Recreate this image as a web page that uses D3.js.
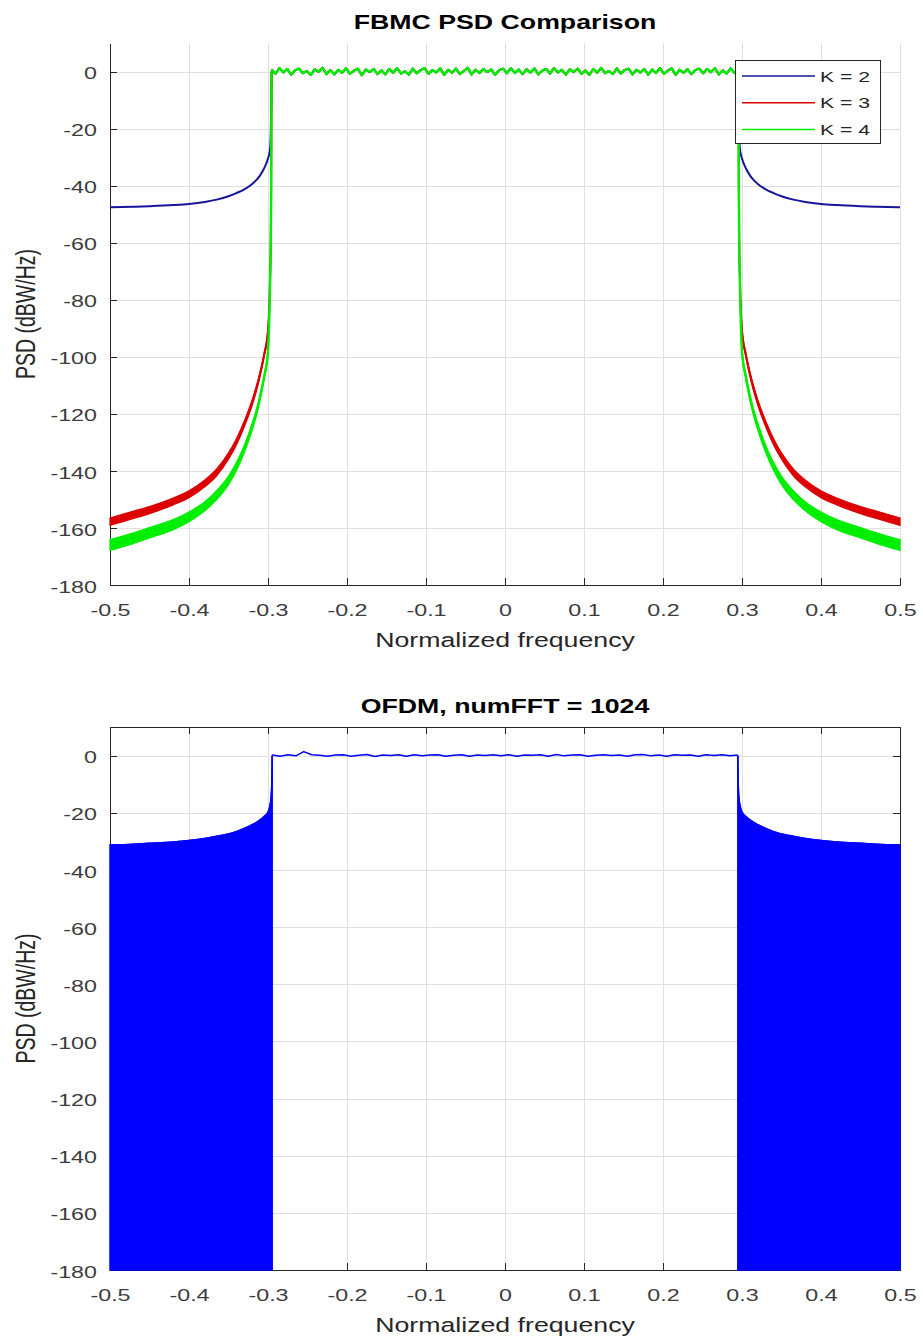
<!DOCTYPE html>
<html>
<head>
<meta charset="utf-8">
<script src="https://cdn.jsdelivr.net/npm/d3@7"></script>
<style>
  body { margin: 0; background: #fff; }
  text { font-family: "Liberation Sans", Arial, sans-serif; }
  .grid line { stroke: #e0e0e0; stroke-width: 1; shape-rendering: crispEdges; }
  .grid path { display: none; }
  .axis path, .axis line { stroke: #262626; stroke-width: 1; shape-rendering: crispEdges; }
  .axis text { fill: #3c3c3c; font-size: 17px; }
</style>
</head>
<body>
<svg id="chart" width="923" height="1340"></svg>
<script>
// tick values
var xTicks = [-0.5, -0.4, -0.3, -0.2, -0.1, 0, 0.1, 0.2, 0.3, 0.4, 0.5];
var yTicks = [-180, -160, -140, -120, -100, -80, -60, -40, -20, 0];

// FBMC: |f| on the stopband side, from the outer edge in to the band edge
var sideFreq = [0.5, 0.47, 0.45, 0.42, 0.4, 0.38, 0.365, 0.35, 0.34, 0.33, 0.32, 0.314, 0.31, 0.305, 0.30, 0.2975, 0.2965, 0.296, 0.2955];
var k2Side = [-47.6, -47.4, -47.2, -46.8, -46.4, -45.7, -44.9, -43.7, -42.6, -41.3, -39.4, -37.8, -36.4, -34.0, -30.5, -27.5, -22, -15, 0];
var k3Hi = [-156.5, -154.1, -152.5, -149.5, -147.0, -143.2, -139.3, -133.7, -128.7, -122.5, -115.0, -109.5, -105.2, -98.8, -90.1, -73.6, -58.7, -40.8, 0];
var k3Lo = [-159.1, -156.7, -155.0, -151.9, -149.4, -145.6, -141.7, -135.9, -130.9, -124.5, -117.0, -111.3, -106.8, -100.2, -91.3, -74.4, -59.3, -41.2, 0];
var k4Hi = [-164.1, -161.7, -159.9, -157.1, -154.4, -150.8, -146.9, -141.8, -137.1, -131.0, -123.3, -117.7, -113.2, -106.4, -97.6, -75.6, -59.7, -41.8, 0];
var k4Lo = [-167.9, -165.4, -163.5, -160.6, -157.8, -154.0, -150.1, -144.8, -139.9, -133.6, -125.7, -119.9, -115.2, -108.0, -98.8, -76.4, -60.3, -42.2, 0];
var fbmcEdge = 0.2955;
// passband ripple (dB), evenly spread over the passband
var fbmcRipple = [0.7, -0.8, 1.2, -0.3, 0.9, -1.1, 0.4, 1.0, -0.6, 0.2, -1.2, 0.8, -0.1, 1.3, -0.9, 0.5, -1.0, 0.6, -0.4, 1.1,
  -0.8, 0.3, 1.0, -1.3, 0.7, -0.2, 0.9, -0.9, 0.4, -1.0, 0.9, -0.5, 1.2, -0.7, 0.1, -1.1, 1.0, -0.6, 0.5, 1.2,
  -0.8, 0.5, -0.3, 1.1, -1.2, 0.6, -0.4, 1.0, -0.9, 0.2, 1.3, -1.0, 0.6, -0.5, 0.9, -0.2, 0.7, -1.2, 0.5, 1.0,
  -0.6, 1.2, -0.5, 0.7, -0.9, 0.8, -0.4, 1.1, -1.0, 0.3, 0.9, -0.7, 1.2, -0.3, 0.6, -1.1, 0.8, -0.2, 1.0, -0.8,
  0.4, -1.2, 0.9, -0.4, 1.3, -0.6, 0.2, -0.9, 1.1, -0.7, 0.5, 1.0, -1.0, 0.6, -0.3, 0.9, -1.1, 0.7, -0.5, 1.2,
  -0.8, 0.3, 1.1, -1.2, 0.6, -0.4, 0.8, -0.9, 0.5, 1.0, -0.6, 0.9, -0.2, 1.2, -1.0, 0.4, -0.7, 1.1, -0.5, 0.6];
var seriesNames = ["K = 2", "K = 3", "K = 4"];

// OFDM: envelope of the stopband, same layout as above
var ofdmFreq = [0.5, 0.47, 0.45, 0.42, 0.4, 0.38, 0.36, 0.34, 0.33, 0.32, 0.31, 0.305, 0.30, 0.2975, 0.296, 0.2952, 0.2947];
var ofdmSide = [-31.3, -31.0, -30.7, -30.2, -29.7, -29.0, -28.0, -26.6, -25.5, -24.2, -22.5, -21.3, -19.8, -17.5, -14.5, -10, 0];
var ofdmEdge = 0.2947;
var ofdmRipple = [0.2, -0.2, 0.3, -0.1, 1.4, 0.3, 0.1, -0.2, 0.2, 0.3, -0.2, 0.1, 0.4, -0.3, 0.2, 0.0, 0.3, -0.2, 0.3, -0.1,
  0.2, 0.3, -0.2, 0.1, 0.3, -0.2, 0.2, 0.0, 0.3, -0.1, 0.3, -0.2, 0.2, 0.1, 0.3, -0.2, 0.4, -0.1, 0.2, 0.3,
  -0.2, 0.1, 0.3, 0.0, 0.2, -0.2, 0.3, 0.4, -0.1, 0.2, -0.2, 0.3, 0.1, 0.2, -0.2, 0.3, 0.0, 0.3, -0.1, 0.2];

// the picture is stretched sideways, so text is too
var SX = 1.37;
var colK2 = "#16169c", colK3 = "#dc0000", colK4 = "#00ee00", colOfdm = "#0000ff";

var svg = d3.select("#chart");

// helpers to turn the side arrays into points
function leftSide(freqs, vals) {
  return freqs.map((f, i) => [-f, vals[i]]);
}
function rightSide(freqs, vals) {
  return freqs.map((f, i) => [f, vals[i]]).reverse();
}
function passband(edge, ripple) {
  var n = ripple.length;
  return ripple.map((v, i) => [-edge + 2 * edge * i / (n - 1), v]);
}
function bandSide(freqs, hi, lo, sign) {
  var pts = freqs.map((f, i) => ({ f: sign * f, hi: hi[i], lo: lo[i] }));
  return sign > 0 ? pts.reverse() : pts;
}
function mid(hi, lo) {
  return hi.map((h, i) => (h + lo[i]) / 2);
}

function stretch(sel, x, y, rot) {
  sel.attr("transform", "translate(" + x + "," + y + ") scale(" + SX + ",1)" + (rot ? " rotate(" + rot + ")" : ""));
}

function drawFrame(x, y, top, bottom, left, right, title, boxed) {
  var g = svg.append("g");

  g.append("g")
    .attr("class", "grid")
    .attr("transform", "translate(0," + bottom + ")")
    .call(d3.axisBottom(x).tickValues(xTicks).tickSize(-(bottom - top)).tickFormat(""));

  g.append("g")
    .attr("class", "grid")
    .attr("transform", "translate(" + left + ",0)")
    .call(d3.axisLeft(y).tickValues(yTicks).tickSize(-(right - left)).tickFormat(""));

  var ax = g.append("g")
    .attr("class", "axis")
    .attr("transform", "translate(0," + bottom + ")")
    .call(d3.axisBottom(x).tickValues(xTicks).tickSizeInner(-7).tickSizeOuter(0)
      .tickPadding(19).tickFormat((d) => String(d)));
  ax.selectAll("text").attr("transform", "scale(" + SX + ",1)");

  var ay = g.append("g")
    .attr("class", "axis")
    .attr("transform", "translate(" + left + ",0)")
    .call(d3.axisLeft(y).tickValues(yTicks).tickSizeInner(-7).tickSizeOuter(0)
      .tickPadding(13).tickFormat((d) => String(d)));
  ay.selectAll("text")
    .attr("x", -13 / SX)
    .attr("dy", "0.42em")
    .attr("transform", "scale(" + SX + ",1)");

  if (boxed) {
    g.append("g")
      .attr("class", "axis")
      .attr("transform", "translate(0," + top + ")")
      .call(d3.axisTop(x).tickValues(xTicks).tickSizeInner(-7).tickSizeOuter(0).tickFormat(""));
    g.append("g")
      .attr("class", "axis")
      .attr("transform", "translate(" + right + ",0)")
      .call(d3.axisRight(y).tickValues(yTicks).tickSizeInner(-7).tickSizeOuter(0).tickFormat(""));
  }

  // title
  svg.append("text")
    .attr("text-anchor", "middle")
    .style("font-size", "19.5px")
    .style("font-weight", "bold")
    .style("fill", "#000")
    .text(title)
    .call(stretch, (left + right) / 2, top - 14);

  // x label
  svg.append("text")
    .attr("text-anchor", "middle")
    .style("font-size", "19.5px")
    .style("fill", "#262626")
    .text("Normalized frequency")
    .call(stretch, (left + right) / 2, bottom + 62);

  // y label
  svg.append("text")
    .attr("text-anchor", "middle")
    .style("font-size", "19.5px")
    .style("fill", "#262626")
    .text("PSD (dBW/Hz)")
    .call(stretch, 35, (top + bottom) / 2, -90);
}

// ---------------- top panel: FBMC ----------------
var x1 = d3.scaleLinear().domain([-0.5, 0.5]).range([110, 900]);
var y1 = d3.scaleLinear().domain([-180, 10]).range([585, 43]);

drawFrame(x1, y1, 43, 585, 110, 900, "FBMC PSD Comparison", false);

// smooth curve for the stopband, jagged line for the noisy passband
var side1 = d3.line().curve(d3.curveMonotoneX).x((d) => x1(d[0])).y((d) => y1(d[1]));
var pass1 = d3.line().x((d) => x1(d[0])).y((d) => y1(d[1]));
var band1 = d3.area().curve(d3.curveMonotoneX).x((d) => x1(d.f)).y0((d) => y1(d.lo)).y1((d) => y1(d.hi));

var series = [
  { name: seriesNames[0], color: colK2, centre: k2Side, hi: null, lo: null, width: 2 },
  { name: seriesNames[1], color: colK3, centre: mid(k3Hi, k3Lo), hi: k3Hi, lo: k3Lo, width: 2 },
  { name: seriesNames[2], color: colK4, centre: mid(k4Hi, k4Lo), hi: k4Hi, lo: k4Lo, width: 2.4 }
];

var plot1 = svg.append("g");
series.forEach((s) => {
  if (s.hi) {
    [-1, 1].forEach((sign) => {
      plot1.append("path")
        .datum(bandSide(sideFreq, s.hi, s.lo, sign))
        .attr("d", band1)
        .attr("fill", s.color)
        .attr("stroke", s.color)
        .attr("stroke-width", 1.2);
    });
  }
  [leftSide(sideFreq, s.centre), rightSide(sideFreq, s.centre)].forEach((pts) => {
    plot1.append("path")
      .datum(pts)
      .attr("d", side1)
      .attr("fill", "none")
      .attr("stroke", s.color)
      .attr("stroke-width", s.width);
  });
  plot1.append("path")
    .datum(passband(fbmcEdge, fbmcRipple))
    .attr("d", pass1)
    .attr("fill", "none")
    .attr("stroke", s.color)
    .attr("stroke-width", s.width)
    .attr("stroke-linejoin", "round");
});

// legend
var legend = svg.append("g");
legend.append("rect")
  .attr("x", 735.5)
  .attr("y", 60.5)
  .attr("width", 145)
  .attr("height", 83)
  .attr("fill", "#fff")
  .attr("stroke", "#262626")
  .attr("stroke-width", 1);

var items = legend.selectAll(".item")
  .data(series)
  .enter()
  .append("g")
    .attr("class", "item")
    .attr("transform", (d, i) => "translate(0," + (76 + i * 26.7) + ")");

items.append("line")
  .attr("x1", 742)
  .attr("x2", 815)
  .attr("stroke", (d) => d.color)
  .attr("stroke-width", 1.5);

items.append("text")
  .attr("dy", "0.36em")
  .style("font-size", "15.5px")
  .style("fill", "#262626")
  .text((d) => d.name)
  .each(function () { d3.select(this).call(stretch, 820, 0); });

// ---------------- bottom panel: OFDM ----------------
var x2 = d3.scaleLinear().domain([-0.5, 0.5]).range([110, 900]);
var y2 = d3.scaleLinear().domain([-180, 10]).range([1270, 727]);

drawFrame(x2, y2, 727, 1270, 110, 900, "OFDM, numFFT = 1024", true);

var side2 = d3.line().curve(d3.curveMonotoneX).x((d) => x2(d[0])).y((d) => y2(d[1]));
var pass2 = d3.line().x((d) => x2(d[0])).y((d) => y2(d[1]));
var fill2 = d3.area().curve(d3.curveMonotoneX).x((d) => x2(d[0])).y0(y2(-180)).y1((d) => y2(d[1]));

var plot2 = svg.append("g");
[leftSide(ofdmFreq, ofdmSide), rightSide(ofdmFreq, ofdmSide)].forEach((pts) => {
  plot2.append("path")
    .datum(pts)
    .attr("d", fill2)
    .attr("fill", colOfdm)
    .attr("stroke", colOfdm)
    .attr("stroke-width", 1.5);
  plot2.append("path")
    .datum(pts)
    .attr("d", side2)
    .attr("fill", "none")
    .attr("stroke", colOfdm)
    .attr("stroke-width", 1.5);
});

plot2.append("path")
  .datum(passband(ofdmEdge, ofdmRipple))
  .attr("d", pass2)
  .attr("fill", "none")
  .attr("stroke", colOfdm)
  .attr("stroke-width", 1.5)
  .attr("stroke-linejoin", "round");
</script>
</body>
</html>
